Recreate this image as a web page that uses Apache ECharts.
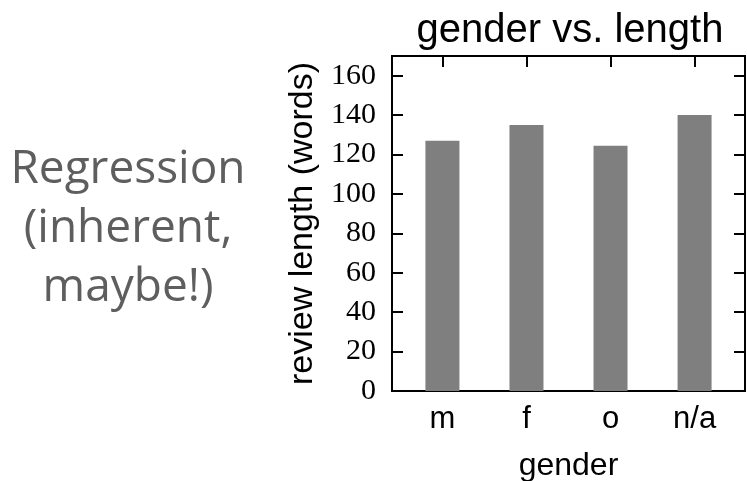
<!DOCTYPE html>
<html>
<head>
<meta charset="utf-8">
<script src="https://cdn.jsdelivr.net/npm/echarts@6/dist/echarts.min.js"></script>
<style>
  html, body { margin: 0; padding: 0; background: #fff; }
  #chart { width: 747px; height: 481px; }
</style>
</head>
<body>
<div id="chart"></div>
<script>
// Average review length per reviewer gender
const categories = ['m', 'f', 'o', 'n/a'];
const reviewLength = [127, 135, 124.5, 140];
const yTicks = [0, 20, 40, 60, 80, 100, 120, 140, 160];

const positions = categories.map((_, i) => i);
const barData = reviewLength.map((v, i) => [positions[i], v]);

const chart = echarts.init(document.getElementById('chart'), null, { renderer: 'canvas' });

const tickStyle = { show: true, inside: true, length: 11, lineStyle: { color: '#000', width: 2 } };
const lineStyle = { show: true, onZero: false, lineStyle: { color: '#000', width: 2 } };

chart.setOption({
  backgroundColor: '#fff',
  animation: false,
  title: {
    text: 'gender vs. length',
    left: 565,
    textAlign: 'center',
    top: 6,
    textStyle: { fontFamily: 'Liberation Sans', fontSize: 40, fontWeight: 'normal', color: '#000' }
  },
  graphic: [{
    type: 'text',
    x: 128,
    y: 140,
    style: {
      text: 'Regression\n(inherent,\nmaybe!)',
      font: '46px "Open Sans"',
      fill: '#5e5e5e',
      align: 'center',
      lineHeight: 59
    }
  }],
  grid: {
    left: 392, right: 2, top: 56, bottom: 90,
    containLabel: false,
    outerBoundsMode: 'none',
    show: true, borderColor: '#000', borderWidth: 2
  },
  xAxis: [{
    type: 'value',
    min: -0.6, max: 3.6,
    position: 'bottom',
    axisLine: lineStyle,
    axisTick: Object.assign({ customValues: positions }, tickStyle),
    axisLabel: {
      customValues: positions,
      formatter: v => categories[Math.round(v)],
      fontFamily: 'Liberation Sans', fontSize: 31, color: '#000', margin: 13
    },
    splitLine: { show: false },
    name: 'gender',
    nameLocation: 'middle',
    nameGap: 59,
    nameTextStyle: { fontFamily: 'Liberation Sans', fontSize: 32, color: '#000' }
  }, {
    type: 'value',
    min: -0.6, max: 3.6,
    position: 'top',
    axisLine: lineStyle,
    axisTick: Object.assign({ customValues: positions }, tickStyle),
    axisLabel: { show: false },
    splitLine: { show: false }
  }],
  yAxis: [{
    type: 'value',
    min: 0, max: 170,
    position: 'left',
    axisLine: lineStyle,
    axisTick: Object.assign({ customValues: yTicks }, tickStyle),
    axisLabel: {
      customValues: yTicks,
      fontFamily: 'Liberation Serif', fontSize: 30, color: '#000', margin: 16
    },
    splitLine: { show: false },
    name: 'review length (words)',
    nameLocation: 'middle',
    nameGap: 72,
    nameTextStyle: { fontFamily: 'Liberation Sans', fontSize: 34, color: '#000' }
  }, {
    type: 'value',
    min: 0, max: 170,
    position: 'right',
    axisLine: lineStyle,
    axisTick: Object.assign({ customValues: yTicks }, tickStyle),
    axisLabel: { show: false },
    splitLine: { show: false }
  }],
  series: [{
    type: 'bar',
    xAxisIndex: 0,
    yAxisIndex: 0,
    data: barData,
    barWidth: 34,
    itemStyle: { color: '#7f7f7f' }
  }]
});
</script>
</body>
</html>
